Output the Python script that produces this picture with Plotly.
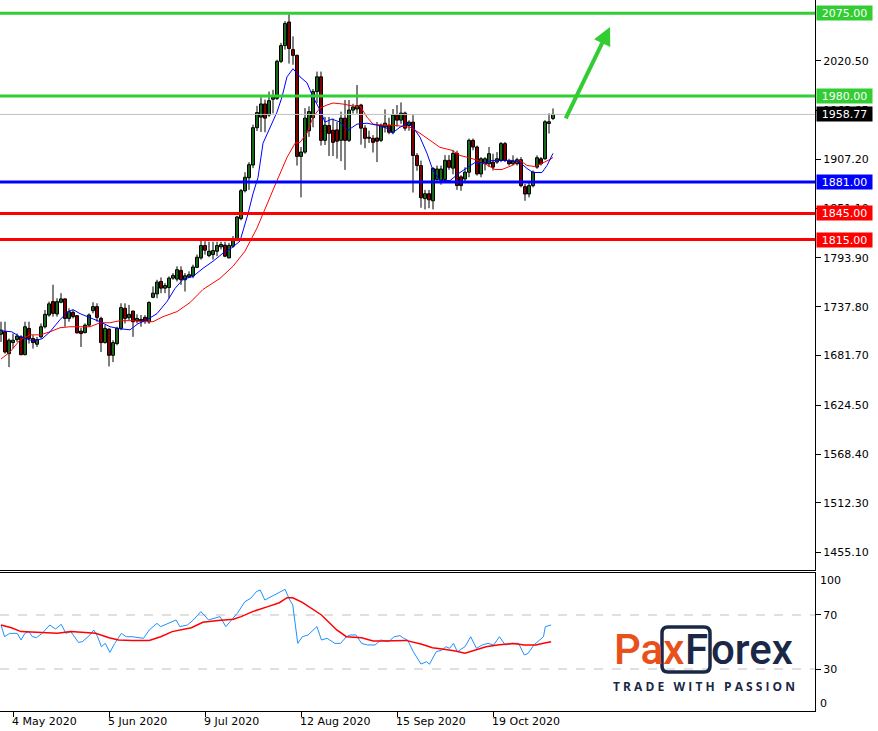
import plotly.graph_objects as go

# ---------------- data ----------------
bar_index = list(range(139))
opens = [1706.2, 1709.0, 1683.8, 1696.5, 1700.0, 1703.1, 1682.6, 1712.8, 1701.2, 1694.6,
         1703.1, 1714.7, 1728.2, 1743.6, 1729.4, 1742.9, 1746.7, 1724.3, 1731.3, 1727.4,
         1709.7, 1708.1, 1716.6, 1733.2, 1737.8, 1724.3, 1696.5, 1712.0, 1681.9, 1695.4,
         1712.8, 1735.9, 1725.1, 1732.8, 1721.6, 1723.2, 1725.5, 1720.4, 1748.6, 1752.5,
         1766.8, 1759.1, 1759.8, 1770.6, 1769.5, 1779.5, 1768.7, 1771.8, 1773.3, 1783.0,
         1793.8, 1808.1, 1796.5, 1797.7, 1801.5, 1806.6, 1808.5, 1793.8, 1807.3, 1816.2,
         1839.0, 1871.0, 1886.0, 1900.6, 1943.5, 1955.7, 1970.8, 1958.1, 1976.2, 1977.3,
         2019.8, 2037.9, 2065.0, 2033.3, 2026.7, 1910.5, 1915.5, 1940.0, 1955.0, 1985.0,
         2002.0, 1929.0, 1946.0, 1940.6, 1941.0, 1929.0, 1954.5, 1929.0, 1963.8, 1965.0,
         1969.6, 1943.0, 1932.5, 1931.3, 1931.7, 1929.0, 1944.5, 1946.4, 1938.3, 1958.0,
         1952.2, 1960.3, 1946.0, 1949.9, 1911.6, 1900.0, 1862.0, 1867.6, 1859.5, 1884.0,
         1883.0, 1884.0, 1906.0, 1897.0, 1914.0, 1887.0, 1884.6, 1892.4, 1929.0, 1921.3,
         1890.4, 1902.0, 1902.0, 1904.0, 1904.0, 1905.9, 1925.2, 1905.1, 1902.0, 1902.0,
         1906.7, 1875.8, 1867.3, 1876.9, 1898.2, 1907.8, 1907.8, 1948.4, 1954.2]
highs = [1720.5, 1720.5, 1701.2, 1706.9, 1706.9, 1705.0, 1720.5, 1720.5, 1705.0, 1703.1,
         1718.5, 1734.0, 1743.6, 1763.0, 1747.5, 1753.3, 1747.5, 1735.9, 1734.0, 1728.2,
         1713.5, 1718.5, 1730.1, 1742.9, 1741.7, 1726.3, 1716.6, 1712.8, 1699.2, 1714.7,
         1741.7, 1741.7, 1739.8, 1732.8, 1729.0, 1728.2, 1728.0, 1744.0, 1761.0, 1768.7,
         1771.4, 1764.9, 1772.6, 1776.4, 1784.2, 1784.2, 1776.4, 1778.4, 1786.1, 1797.7,
         1816.2, 1813.1, 1812.4, 1812.4, 1812.4, 1812.4, 1812.4, 1811.2, 1818.9, 1842.1,
         1873.0, 1892.3, 1903.9, 1947.0, 1968.6, 1978.5, 1975.8, 1985.0, 1987.0, 2021.7,
         2041.0, 2066.0, 2073.8, 2048.5, 2027.5, 1921.3, 1966.0, 1968.0, 1988.0, 2008.0,
         2008.0, 1956.0, 1955.7, 1954.0, 1950.0, 1962.0, 1975.4, 1975.4, 1971.0, 1992.6,
         1971.0, 1946.4, 1940.1, 1935.0, 1950.0, 1948.3, 1964.6, 1955.0, 1965.0, 1969.5,
         1972.6, 1962.0, 1952.0, 1958.0, 1914.3, 1905.7, 1872.1, 1872.1, 1898.4, 1900.0,
         1900.0, 1912.0, 1912.0, 1918.0, 1917.0, 1889.0, 1898.0, 1931.0, 1931.0, 1923.0,
         1909.7, 1909.7, 1921.3, 1913.6, 1915.5, 1927.1, 1927.1, 1907.8, 1911.7, 1909.0,
         1909.7, 1878.8, 1880.8, 1894.3, 1911.7, 1909.7, 1952.2, 1960.0, 1965.7]
lows = [1697.3, 1683.8, 1668.3, 1689.6, 1697.3, 1681.9, 1681.9, 1695.4, 1689.6, 1691.5,
        1701.2, 1712.8, 1726.3, 1726.3, 1726.3, 1741.7, 1714.7, 1720.5, 1724.3, 1706.9,
        1691.5, 1706.9, 1714.7, 1730.1, 1720.5, 1685.7, 1695.4, 1669.1, 1674.1, 1693.4,
        1710.8, 1718.5, 1722.4, 1703.1, 1718.5, 1714.7, 1718.0, 1718.0, 1747.5, 1747.5,
        1753.3, 1753.3, 1747.5, 1768.7, 1766.8, 1762.9, 1755.2, 1770.6, 1770.6, 1782.2,
        1791.9, 1797.7, 1794.6, 1791.9, 1795.8, 1803.5, 1794.6, 1793.8, 1805.4, 1813.1,
        1837.1, 1869.1, 1872.0, 1897.0, 1939.7, 1938.6, 1938.3, 1956.0, 1960.0, 1975.4,
        2017.9, 2033.3, 2017.2, 2015.9, 1900.0, 1863.4, 1913.6, 1933.0, 1944.0, 1972.0,
        1923.0, 1923.6, 1911.0, 1911.0, 1908.0, 1905.0, 1895.0, 1927.0, 1959.8, 1959.8,
        1924.0, 1920.0, 1926.0, 1915.0, 1904.0, 1927.0, 1938.0, 1936.0, 1936.0, 1945.0,
        1948.0, 1940.0, 1940.0, 1869.0, 1894.0, 1851.5, 1849.6, 1851.0, 1849.6, 1880.0,
        1878.0, 1880.0, 1895.0, 1890.0, 1872.0, 1871.0, 1880.8, 1886.6, 1917.5, 1888.5,
        1886.6, 1894.3, 1898.2, 1894.3, 1902.0, 1904.0, 1904.0, 1900.1, 1900.1, 1900.1,
        1875.0, 1859.5, 1863.4, 1875.0, 1896.3, 1900.1, 1906.7, 1936.8, 1952.2]
closes = [1710.8, 1685.7, 1699.2, 1699.2, 1703.9, 1682.6, 1714.7, 1701.2, 1696.5, 1700.0,
          1714.7, 1729.0, 1741.0, 1730.1, 1743.6, 1746.7, 1724.3, 1732.0, 1726.3, 1707.7,
          1706.9, 1716.6, 1728.2, 1737.8, 1725.5, 1696.5, 1712.8, 1681.9, 1696.5, 1712.8,
          1736.7, 1724.3, 1729.0, 1720.5, 1724.3, 1721.6, 1721.6, 1742.5, 1753.3, 1766.0,
          1759.1, 1762.1, 1770.6, 1773.7, 1780.3, 1768.7, 1773.3, 1774.5, 1783.4, 1794.6,
          1808.1, 1802.7, 1801.5, 1802.3, 1808.1, 1809.3, 1795.8, 1808.1, 1816.2, 1840.9,
          1871.1, 1886.5, 1901.0, 1943.5, 1960.9, 1970.8, 1954.5, 1974.6, 1978.5, 2019.8,
          2037.9, 2063.4, 2034.5, 2026.7, 1910.5, 1915.5, 1954.5, 1962.0, 1985.0, 2002.0,
          1929.0, 1946.4, 1937.0, 1926.7, 1928.0, 1954.5, 1929.0, 1963.8, 1967.3, 1968.8,
          1943.0, 1931.3, 1931.4, 1926.7, 1928.0, 1946.4, 1948.7, 1938.3, 1958.0, 1952.2,
          1960.3, 1943.0, 1949.9, 1911.6, 1900.0, 1863.0, 1867.6, 1860.6, 1896.6, 1896.0,
          1896.0, 1906.0, 1898.0, 1914.0, 1877.0, 1877.0, 1892.4, 1929.0, 1921.3, 1890.4,
          1907.8, 1907.8, 1913.6, 1898.2, 1907.8, 1925.2, 1905.9, 1902.0, 1905.1, 1906.7,
          1876.9, 1867.3, 1876.9, 1892.4, 1909.0, 1902.0, 1950.3, 1950.3, 1958.77]

ma_fast_bars = [0, 2.7, 4.75, 8, 10.25, 12.25, 14.75, 16.75, 18, 19.75, 22.25, 24.75, 27.25,
                29.75, 32.25, 34.25, 36.5, 39, 41.5, 43.5, 45.5, 48, 50.5, 53, 55.5, 57.25,
                59.75, 61.75, 63, 64.25, 65.5, 67.25, 69, 70.25, 71.5, 73, 74.75, 76.5, 78,
                79.75, 81, 82.75, 84.75, 86.75, 89, 91.5, 94, 96.5, 97.75, 99.75, 101.75, 103,
                104.75, 106.5, 108, 109.75, 112.25, 114.75, 116.75, 118.5, 121, 122.75, 125.25,
                127.75, 129.75, 131.5, 133, 135.25, 136.5, 138]
ma_fast_vals = [1710.1, 1708.9, 1703.1, 1698.5, 1700.8, 1708.9, 1722.8, 1732.1, 1734.4, 1729.8,
                1725.1, 1720.5, 1714.7, 1712.4, 1711.2, 1718.2, 1722.8, 1729.8, 1743.7, 1758.7,
                1769.2, 1772.6, 1781.9, 1790.0, 1799.3, 1803.9, 1813.2, 1844.5, 1867.6, 1886.2,
                1925.6, 1942.9, 1961.5, 1978.9, 2002.0, 2011.3, 2002.0, 1995.1, 1978.9, 1963.8,
                1949.9, 1953.4, 1949.9, 1940.6, 1947.6, 1948.7, 1946.4, 1942.9, 1937.1, 1944.1,
                1948.7, 1944.1, 1932.5, 1914.0, 1894.3, 1882.7, 1882.7, 1892.0, 1897.8, 1903.5,
                1903.5, 1905.9, 1905.9, 1905.9, 1903.5, 1896.6, 1892.0, 1892.0, 1900.1, 1914.0]

ma_slow_bars = [0, 2.25, 4.75, 7.25, 9.75, 12.25, 14.75, 17.25, 22.25, 24.75, 27.25, 29.75, 33,
                35.5, 38, 40.5, 44, 47.25, 50.5, 54.75, 58, 61, 64, 66.5, 69, 71.5, 73.5, 74.75,
                76.5, 78, 79.75, 81.5, 83, 85.5, 88, 89.75, 91.5, 93, 95.5, 98, 99.75, 102.25,
                104.75, 107.25, 109.75, 112.75, 114.75, 116.75, 119.25, 121.75, 123.5, 125.25,
                127.75, 129.75, 131.5, 133.5, 135.25, 137.25, 138]
ma_slow_vals = [1677.6, 1685.7, 1699.6, 1705.4, 1705.4, 1708.9, 1713.6, 1714.7, 1714.7, 1719.3,
                1719.3, 1721.7, 1721.7, 1720.5, 1720.5, 1726.3, 1732.1, 1742.5, 1757.6, 1770.3,
                1784.2, 1801.6, 1828.2, 1856.1, 1882.7, 1909.3, 1925.6, 1926.7, 1937.1, 1955.7,
                1966.1, 1969.6, 1971.9, 1970.7, 1968.4, 1968.4, 1955.7, 1947.6, 1946.4, 1946.4,
                1945.3, 1944.1, 1937.1, 1929.0, 1920.9, 1917.5, 1911.6, 1909.3, 1905.9, 1900.1,
                1895.5, 1895.5, 1900.1, 1905.9, 1900.1, 1898.9, 1902.4, 1907.0, 1909.3]

rsi_bars = [0, 0.9, 2.14, 4.06, 5.01, 5.97, 6.93, 7.88, 8.84, 10.27, 12.19, 13.62, 15.06, 16.21,
            17.45, 19.36, 20.32, 22.23, 23.19, 24.15, 25.1, 26.06, 27.21, 28.45, 30.08, 31.32,
            32.76, 35.63, 37.06, 38.98, 39.93, 41.85, 43.76, 44.72, 46.63, 48.07, 49.98, 51.89,
            53.33, 54.76, 56.2, 57.63, 59.07, 60.98, 62.42, 63.85, 64.81, 65.96, 67.68, 69.11,
            71.03, 71.98, 72.94, 74.19, 75.33, 76.77, 77.73, 78.97, 80.12, 81.55, 83.47, 84.9,
            86.34, 87.29, 88.73, 90.16, 91.6, 93.51, 94.95, 96.86, 98.3, 99.73, 100.69, 101.64,
            103.08, 104.99, 106.43, 107.1, 108.82, 110.26, 111.21, 112.17, 113.12, 114.08,
            115.99, 117.43, 118.87, 120.3, 121.74, 123.17, 124.61, 126.04, 127.95, 129.39,
            130.83, 131.78, 133.22, 134.65, 135.61, 136.09, 137.52]
rsi_vals = [62.6, 53.9, 56.4, 56.4, 51.5, 56.4, 57.7, 53.9, 53.2, 56.4, 62.6, 59.6, 63.1, 56.4,
            57.7, 49.7, 50.2, 55.2, 58.9, 53.9, 46.5, 49.0, 42.3, 49.0, 56.4, 53.9, 53.9, 52.7,
            58.9, 63.8, 61.4, 63.8, 66.3, 61.4, 62.6, 66.3, 72.5, 66.3, 67.5, 68.8, 61.4, 66.3,
            71.2, 79.9, 82.3, 87.3, 88.5, 81.1, 83.6, 86.0, 89.0, 82.3, 77.4, 49.0, 53.9, 55.2,
            57.7, 61.4, 51.5, 52.7, 49.0, 49.0, 53.9, 55.2, 55.2, 49.0, 47.8, 47.8, 51.5, 50.2,
            53.9, 54.7, 52.7, 51.5, 42.8, 33.7, 35.4, 33.5, 42.8, 44.1, 46.5, 45.3, 49.0, 42.8,
            46.5, 53.9, 45.3, 47.8, 49.0, 47.8, 53.9, 47.8, 49.0, 49.0, 40.4, 41.6, 47.8, 51.5,
            53.9, 61.4, 62.6]
rsi_ma_bars = [0, 2.62, 5.01, 9.32, 14.1, 17.45, 21.75, 23.67, 27.02, 29.41, 32.76, 37.06, 39.93,
               42.8, 47.59, 50.46, 54.28, 58.11, 60.03, 62.9, 66.72, 69.59, 71.51, 72.94, 75.33,
               80.12, 83.94, 86.34, 90.16, 93.03, 95.42, 101.16, 104.99, 107.86, 110.73, 113.6,
               115.99, 118.39, 121.26, 124.13, 127.95, 130.83, 133.7, 135.61, 137.52]
rsi_ma_vals = [62.6, 60.6, 57.7, 56.9, 56.4, 57.7, 56.9, 56.4, 53.2, 51.5, 51.2, 51.2, 53.9, 57.7,
               60.6, 64.6, 66.0, 66.8, 68.8, 72.5, 76.2, 79.1, 82.8, 82.8, 79.4, 70.0, 58.9, 53.9,
               53.2, 50.7, 50.7, 51.2, 48.5, 45.8, 44.6, 43.3, 41.6, 44.1, 46.5, 47.8, 48.8, 47.8,
               47.8, 49.0, 50.2]

levels = [2075.00, 1980.00, 1881.00, 1845.00, 1815.00]
level_colors = ["#32CD32", "#32CD32", "#0000FF", "#FF0000", "#FF0000"]
last_price = 1958.77
price_ticks = [2020.50, 1963.85, 1907.20, 1851.10, 1793.90, 1737.80, 1681.70, 1624.50,
               1568.40, 1512.30, 1455.10]
date_bars = [3, 27, 51, 75, 99, 123]
date_labels = ["4 May 2020", "5 Jun 2020", "9 Jul 2020", "12 Aug 2020", "15 Sep 2020", "19 Oct 2020"]
rsi_levels = [70, 30]
arrow_tail = (141, 1952.4)
arrow_tip = (152.25, 2059.3)

# ---------------- layout helpers ----------------
W, H = 878, 731
PW, PH = 815, 711          # plot area in pixels (margins r=63, b=20)
def pxx(x):
    return x / PW
def pxy(y):
    return (PH - y) / PH

GREEN = "#32CD32"
RED = "#FF0000"
FONT = "DejaVu Sans"

fig = go.Figure()

# wicks
wick_x, wick_y = [], []
for i, lo, hi in zip(bar_index, lows, highs):
    wick_x += [i, i, None]
    wick_y += [lo, hi, None]
fig.add_trace(go.Scatter(x=wick_x, y=wick_y, mode="lines", line=dict(color="black", width=1),
                         xaxis="x", yaxis="y", showlegend=False, hoverinfo="skip"))

# bodies
for up, col in [(True, GREEN), (False, RED)]:
    bx, bbase, bh = [], [], []
    for i, o, c in zip(bar_index, opens, closes):
        if (c >= o) == up:
            bx.append(i)
            bbase.append(min(o, c))
            bh.append(max(abs(c - o), 0.6))
    fig.add_trace(go.Bar(x=bx, y=bh, base=bbase, width=0.75,
                         marker=dict(color=col, line=dict(color="black", width=1)),
                         xaxis="x", yaxis="y", showlegend=False, hoverinfo="skip"))

fig.add_trace(go.Scatter(x=ma_slow_bars, y=ma_slow_vals, mode="lines",
                         line=dict(color=RED, width=1), xaxis="x", yaxis="y",
                         showlegend=False, hoverinfo="skip"))
fig.add_trace(go.Scatter(x=ma_fast_bars, y=ma_fast_vals, mode="lines",
                         line=dict(color="#0000FF", width=1), xaxis="x", yaxis="y",
                         showlegend=False, hoverinfo="skip"))

fig.add_trace(go.Scatter(x=rsi_bars, y=rsi_vals, mode="lines",
                         line=dict(color="#1E90FF", width=1), xaxis="x2", yaxis="y2",
                         showlegend=False, hoverinfo="skip"))
fig.add_trace(go.Scatter(x=rsi_ma_bars, y=rsi_ma_vals, mode="lines",
                         line=dict(color=RED, width=1.5), xaxis="x2", yaxis="y2",
                         showlegend=False, hoverinfo="skip"))

shapes = []
annotations = []

# current price line
shapes.append(dict(type="line", xref="paper", x0=0, x1=1, yref="y", y0=last_price, y1=last_price,
                   line=dict(color="#C0C0C0", width=1), layer="above"))
for lv, col in zip(levels, level_colors):
    shapes.append(dict(type="line", xref="paper", x0=0, x1=1, yref="y", y0=lv, y1=lv,
                       line=dict(color=col, width=3), layer="above"))
    annotations.append(dict(xref="paper", x=1, xanchor="left", xshift=1, yref="y", y=lv,
                            text=f"{lv:.2f}", showarrow=False, bgcolor=col, borderpad=0,
                            width=55, height=14, align="center",
                            font=dict(family=FONT, size=11, color="white")))
annotations.append(dict(xref="paper", x=1, xanchor="left", xshift=1, yref="y", y=last_price,
                        text=f"{last_price:.2f}", showarrow=False, bgcolor="black", borderpad=0,
                        width=55, height=14, align="center",
                        font=dict(family=FONT, size=11, color="white")))

# RSI dashed levels
for lv in rsi_levels:
    shapes.append(dict(type="line", xref="paper", x0=0, x1=1, yref="y2", y0=lv, y1=lv,
                       line=dict(color="#C0C0C0", width=1, dash="dash"), layer="below"))
for val, txt in [(95.2, "100"), (4.8, "0")]:
    annotations.append(dict(xref="paper", x=1, xanchor="left", xshift=3, yref="y2", y=val,
                            text=txt, showarrow=False,
                            font=dict(family=FONT, size=11, color="black")))

# date labels
for b, lab in zip(date_bars, date_labels):
    annotations.append(dict(xref="x2", x=b, xanchor="left", xshift=-3, yref="paper", y=0,
                            yanchor="top", yshift=-2, text=lab, showarrow=False,
                            font=dict(family=FONT, size=11, color="black")))

# green arrow
annotations.append(dict(xref="x", yref="y", x=arrow_tip[0], y=arrow_tip[1],
                        axref="x", ayref="y", ax=arrow_tail[0], ay=arrow_tail[1],
                        showarrow=True, arrowhead=2, arrowsize=0.9, arrowwidth=4,
                        arrowcolor=GREEN, text=""))

# PaxForex logo
ORANGE = "#E8511C"
NAVY = "#1A2746"
annotations.append(dict(xref="paper", yref="paper", x=pxx(686), y=pxy(649), xanchor="right",
                        yanchor="middle", text="Pax", showarrow=False,
                        font=dict(family="Roboto", size=42, color=ORANGE, weight=500)))
annotations.append(dict(xref="paper", yref="paper", x=pxx(696), y=pxy(649), xanchor="center",
                        yanchor="middle", text="F", showarrow=False,
                        font=dict(family="Roboto", size=42, color=NAVY, weight=500)))
annotations.append(dict(xref="paper", yref="paper", x=pxx(709), y=pxy(649), xanchor="left",
                        yanchor="middle", text="orex", showarrow=False,
                        font=dict(family="Roboto", size=42, color=NAVY, weight=500)))
annotations.append(dict(xref="paper", yref="paper", x=pxx(704), y=pxy(686), xanchor="center",
                        yanchor="middle", text="T R A D E   W I T H   P A S S I O N",
                        showarrow=False,
                        font=dict(family="Open Sans", size=12, color=NAVY, weight="bold")))
L, R, T, B, r = 662, 710, 627, 672, 6
def P(x, y):
    return f"{pxx(x):.5f},{pxy(y):.5f}"
path = (f"M{P(L + r, T)} L{P(R - r, T)} Q{P(R, T)} {P(R, T + r)} L{P(R, B - r)} "
        f"Q{P(R, B)} {P(R - r, B)} L{P(L + r, B)} Q{P(L, B)} {P(L, B - r)} "
        f"L{P(L, T + r)} Q{P(L, T)} {P(L + r, T)} Z")
shapes.append(dict(type="path", xref="paper", yref="paper", path=path,
                   line=dict(color=NAVY, width=3.5), layer="above"))

main_dom = [(PH - 570) / PH, 1]
rsi_dom = [0, (PH - 573) / PH]
xr = [-0.25, (PW - 1) / 4]

fig.update_layout(
    width=W, height=H,
    margin=dict(l=0, r=W - PW, t=0, b=H - PH),
    paper_bgcolor="white", plot_bgcolor="white",
    font=dict(family=FONT, size=11, color="black"),
    hovermode=False, showlegend=False, barmode="overlay",
    shapes=shapes, annotations=annotations,
    xaxis=dict(domain=[0, 1], range=xr, anchor="y", showticklabels=False, ticks="",
               showgrid=False, zeroline=False, showline=True, linecolor="black", linewidth=1),
    yaxis=dict(domain=main_dom, range=[1435.1, 2090.3], anchor="x", side="right",
               tickvals=price_ticks, ticktext=[f"{v:.2f}" for v in price_ticks],
               ticks="outside", ticklen=5, tickcolor="black", showgrid=False, zeroline=False,
               showline=True, linecolor="black", linewidth=1,
               tickfont=dict(family=FONT, size=11, color="black")),
    xaxis2=dict(domain=[0, 1], range=xr, anchor="y2", tickvals=date_bars,
                showticklabels=False, ticks="outside", ticklen=5, tickcolor="black",
                showgrid=False, zeroline=False, showline=True, mirror=True,
                linecolor="black", linewidth=1),
    yaxis2=dict(domain=rsi_dom, range=[-1.1, 101.1], anchor="x2", side="right",
                tickvals=rsi_levels, ticktext=[str(v) for v in rsi_levels],
                ticks="outside", ticklen=5, tickcolor="black", showgrid=False, zeroline=False,
                showline=True, linecolor="black", linewidth=1,
                tickfont=dict(family=FONT, size=11, color="black")),
)

fig.write_html("out.html", config={"displayModeBar": False, "staticPlot": True},
               post_script="document.body.style.margin='0';document.body.style.overflow='hidden';")
